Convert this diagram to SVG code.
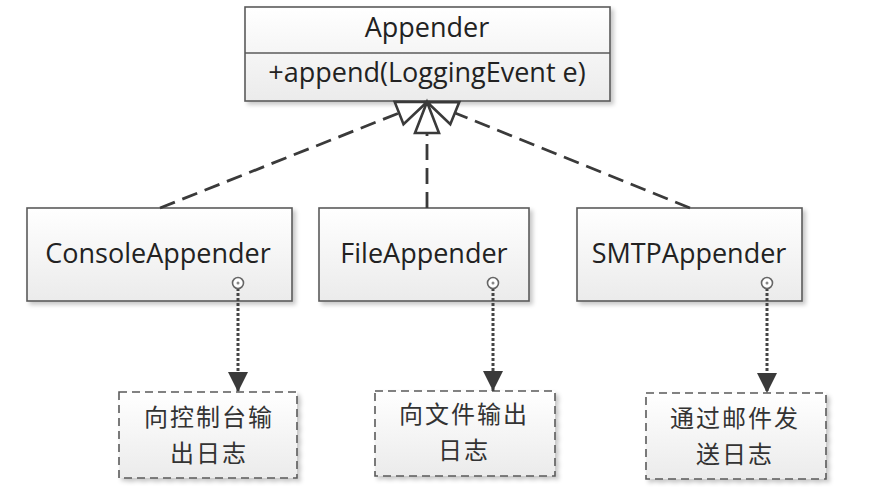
<svg xmlns="http://www.w3.org/2000/svg" width="889" height="497" viewBox="0 0 889 497">
<defs>
<linearGradient id="g" x1="0" y1="0" x2="0" y2="1">
<stop offset="0" stop-color="#ffffff"/>
<stop offset="1" stop-color="#ebebeb"/>
</linearGradient>
<filter id="sh" x="-10%" y="-10%" width="125%" height="130%">
<feDropShadow dx="3" dy="3" stdDeviation="2" flood-color="#000" flood-opacity="0.22"/>
</filter>
<marker id="arr" markerWidth="20" markerHeight="20" refX="20" refY="10" orient="auto" markerUnits="userSpaceOnUse">
<path d="M0,0 L20,10 L0,20 Z" fill="#3a3a3a"/>
</marker>
</defs>
<style>
.box{fill:url(#g);stroke:#5a5a5a;stroke-width:1.6;filter:url(#sh)}
.note{fill:url(#g);stroke:#5a5a5a;stroke-width:1.6;stroke-dasharray:8 5;filter:url(#sh)}
.t{font-family:"Open Sans","Noto Sans",sans-serif;font-size:27px;fill:#222;text-anchor:middle}
.c{font-family:"Noto Sans CJK SC","Noto Sans",sans-serif;font-size:24px;letter-spacing:2px;fill:#333;text-anchor:middle}
.real{stroke:#3a3a3a;stroke-width:2.8;stroke-dasharray:16 8;fill:none}
.tri{fill:#fff;stroke:#3a3a3a;stroke-width:2.6;stroke-linejoin:miter}
.dep{stroke:#444;stroke-width:3;stroke-dasharray:3 2;fill:none}
.dot{fill:#fff;stroke:#666;stroke-width:1.6}
</style>
<rect width="889" height="497" fill="#fff"/>
<g id="appender">
<rect class="box" x="245" y="7" width="365" height="94"/>
<line x1="245" y1="53" x2="610" y2="53" stroke="#5a5a5a" stroke-width="1.6"/>
<text class="t" x="427" y="37">Appender</text>
<text class="t" x="427" y="82">+append(LoggingEvent e)</text>
</g>
<g id="console">
<rect class="box" x="27" y="208" width="265" height="93"/>
<text class="t" x="158" y="263">ConsoleAppender</text>
</g>
<g id="file">
<rect class="box" x="319" y="208" width="210" height="93"/>
<text class="t" x="424" y="263">FileAppender</text>
</g>
<g id="smtp">
<rect class="box" x="577" y="208" width="225" height="93"/>
<text class="t" x="689" y="263">SMTPAppender</text>
</g>
<g id="note-console">
<rect class="note" x="119" y="392" width="178" height="86"/>
<text class="c" x="209" y="426">向控制台输<tspan x="209" dy="36">出日志</tspan></text>
</g>
<g id="note-file">
<rect class="note" x="375" y="391" width="180" height="85"/>
<text class="c" x="464" y="423">向文件输出<tspan x="464" dy="36">日志</tspan></text>
</g>
<g id="note-smtp">
<rect class="note" x="646" y="393" width="180" height="86"/>
<text class="c" x="735" y="427">通过邮件发<tspan x="735" dy="36">送日志</tspan></text>
</g>
<g id="connectors">
<line class="real" x1="160" y1="208" x2="399" y2="113"/>
<line class="real" x1="427" y1="208" x2="427" y2="133"/>
<line class="real" x1="690" y1="208" x2="455" y2="113"/>
<polygon class="tri" points="427,102 403.5,124.3 394.7,101.9"/>
<polygon class="tri" points="427,102 415,133 439,133"/>
<polygon class="tri" points="427,102 459.3,102.1 450.3,124.3"/>
<line class="dep" x1="238" y1="283" x2="238" y2="392" marker-end="url(#arr)"/>
<circle class="dot" cx="238" cy="283" r="5.5"/>
<circle cx="238" cy="283" r="1.5" fill="#888"/>
<line class="dep" x1="493" y1="283" x2="493" y2="391" marker-end="url(#arr)"/>
<circle class="dot" cx="493" cy="283" r="5.5"/>
<circle cx="493" cy="283" r="1.5" fill="#888"/>
<line class="dep" x1="767" y1="283" x2="767" y2="393" marker-end="url(#arr)"/>
<circle class="dot" cx="767" cy="283" r="5.5"/>
<circle cx="767" cy="283" r="1.5" fill="#888"/>
</g>
</svg>
